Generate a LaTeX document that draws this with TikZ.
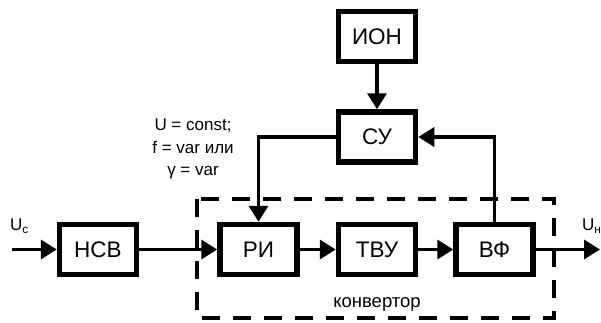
\documentclass[tikz,border=0pt]{standalone}
\usepackage{fontspec}
\setmainfont{Liberation Sans}
\usetikzlibrary{arrows.meta,positioning,calc}

\begin{document}
\begin{tikzpicture}[
  x=1pt, y=1pt,
  box/.style={draw, line width=5.5pt, minimum width=77pt, minimum height=50pt, inner sep=0pt, font=\fontsize{22.5}{26}\selectfont},
  arr/.style={line width=3.5pt, -{Triangle[length=16pt,width=19pt]}},
  lbl/.style={font=\fontsize{17}{22.5}\selectfont, align=center},
  frame/.style={draw, line width=4pt, dash pattern=on 18pt off 13pt}]
  \useasboundingbox (0,0) rectangle (601,322);
  % main chain
  \node[box] (nsv) at (98,72.5) {НСВ};
  \node[box, right=78pt of nsv] (ri) {РИ};
  \node[box, right=36pt of ri] (tvu) {ТВУ};
  \node[box, right=35pt of tvu] (vf) {ВФ};
  % control part
  \node[box, above=57pt of tvu] (su) {СУ};
  \node[box, above=45pt of su] (ion) {ИОН};
  % converter frame
  \draw[frame] ($(ri.north west)+(-20,23)$) rectangle ($(vf.south east)+(18,-41)$);
  \node[lbl, font=\fontsize{18.5}{22}\selectfont, anchor=base] (konv) at (377,15) {конвертор};
  % labels
  \coordinate (uc) at (12,72.5);
  \coordinate (un) at (600,72.5);
  \node[lbl, anchor=west, inner sep=0pt] (uclbl) at (10,96) {U\textsubscript{с}};
  \node[lbl, anchor=west, inner sep=0pt] (unlbl) at (582,96) {U\textsubscript{н}};
  \node[lbl] (ctl) at (193,173) {U = const;\\f = var или\\γ = var};
  % arrows
  \draw[arr] (uc) -- (nsv);
  \draw[arr] (nsv) -- (ri);
  \draw[arr] (ri) -- (tvu);
  \draw[arr] (tvu) -- (vf);
  \draw[arr] (vf) -- (un);
  \draw[arr] (ion) -- (su);
  \draw[arr] (su.west) -| (ri.north);
  \draw[arr] (vf.north) |- (su.east);
\end{tikzpicture}
\end{document}
